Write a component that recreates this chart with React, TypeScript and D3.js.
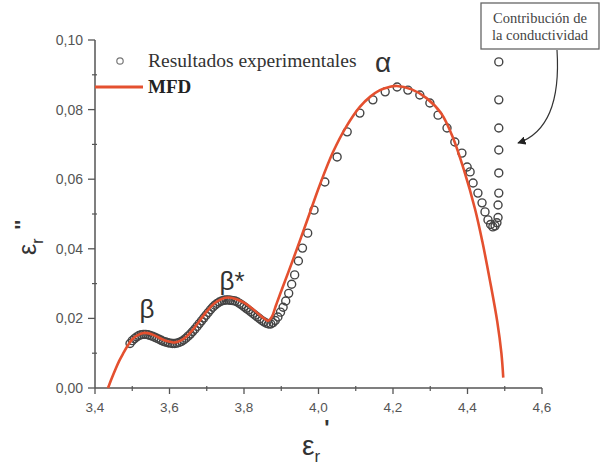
import React from 'react';
import * as d3 from 'd3';

// ε' , ε'' pairs
const expBeta: [number, number][] = [
  [3.494, 0.0128], [3.5, 0.0136], [3.506, 0.0142], [3.512, 0.0147], [3.518, 0.0151],
  [3.524, 0.0153], [3.53, 0.0154], [3.536, 0.0154], [3.542, 0.0153], [3.548, 0.0151],
  [3.554, 0.0149], [3.56, 0.0146], [3.566, 0.0143], [3.572, 0.014], [3.578, 0.0137],
  [3.584, 0.0134], [3.59, 0.0132], [3.596, 0.013], [3.602, 0.0129], [3.608, 0.0128],
  [3.614, 0.0128], [3.62, 0.0129], [3.626, 0.0131], [3.632, 0.0134], [3.638, 0.0138],
  [3.644, 0.0143], [3.65, 0.0149], [3.656, 0.0155], [3.662, 0.0162], [3.668, 0.0169],
  [3.674, 0.0177], [3.68, 0.0185], [3.686, 0.0193], [3.692, 0.0201], [3.698, 0.0209],
  [3.704, 0.0217], [3.71, 0.0225], [3.716, 0.0232], [3.722, 0.0238], [3.728, 0.0243],
  [3.734, 0.0247], [3.74, 0.025], [3.746, 0.0252], [3.752, 0.0253], [3.758, 0.0253],
  [3.764, 0.0252], [3.77, 0.0251], [3.776, 0.025], [3.782, 0.0247], [3.788, 0.0243],
  [3.794, 0.0239], [3.8, 0.0234], [3.806, 0.0229], [3.812, 0.0224], [3.818, 0.0219],
  [3.824, 0.0214], [3.83, 0.0209], [3.836, 0.0204], [3.842, 0.0199], [3.848, 0.0194],
  [3.854, 0.019], [3.86, 0.0186], [3.866, 0.0184], [3.872, 0.0184],
];

const expAlpha: [number, number][] = [
  [3.878, 0.0188], [3.884, 0.0194], [3.891, 0.0204], [3.898, 0.0218], [3.905, 0.0232],
  [3.912, 0.025], [3.92, 0.0272], [3.928, 0.0298], [3.936, 0.0325], [3.946, 0.0365],
  [3.957, 0.0402], [3.971, 0.0445], [3.988, 0.0511], [4.017, 0.0592], [4.05, 0.0664],
  [4.077, 0.0736], [4.111, 0.079], [4.146, 0.0828], [4.179, 0.0851], [4.211, 0.0865],
  [4.24, 0.0856], [4.272, 0.0842], [4.299, 0.0819], [4.321, 0.0784], [4.345, 0.0747],
  [4.366, 0.0707], [4.385, 0.0675], [4.399, 0.0635], [4.407, 0.0621], [4.415, 0.0589],
  [4.428, 0.056], [4.439, 0.0532], [4.447, 0.0506], [4.455, 0.0483], [4.462, 0.047],
  [4.468, 0.0463], [4.474, 0.0466], [4.479, 0.0475],
];

const expCond: [number, number][] = [
  [4.482, 0.049], [4.482, 0.0526], [4.484, 0.056], [4.484, 0.0618], [4.484, 0.0684],
  [4.484, 0.0747], [4.484, 0.0828], [4.484, 0.0937],
];

const mfd: [number, number][] = [
  [3.435, 0.0], [3.445, 0.0028], [3.455, 0.0054], [3.465, 0.0078], [3.475, 0.0098],
  [3.488, 0.0122], [3.5, 0.014], [3.515, 0.0152], [3.53, 0.0158], [3.545, 0.0157],
  [3.56, 0.0151], [3.575, 0.0143], [3.59, 0.0136], [3.605, 0.0132], [3.615, 0.0131],
  [3.63, 0.0136], [3.645, 0.0147], [3.66, 0.0164], [3.68, 0.0192], [3.7, 0.022],
  [3.72, 0.0243], [3.74, 0.0256], [3.76, 0.026], [3.78, 0.0255], [3.8, 0.0245],
  [3.82, 0.023], [3.84, 0.0212], [3.855, 0.0199], [3.865, 0.0193], [3.875, 0.0205],
  [3.885, 0.0235], [3.897, 0.027], [3.932, 0.037], [3.969, 0.048], [4.004, 0.0585],
  [4.039, 0.0678], [4.075, 0.0752], [4.111, 0.0808], [4.14, 0.0838], [4.165, 0.0856],
  [4.19, 0.0865], [4.21, 0.0868], [4.25, 0.0858], [4.29, 0.0833], [4.33, 0.0788],
  [4.36, 0.0722], [4.39, 0.0628], [4.42, 0.0515], [4.44, 0.042], [4.46, 0.031],
  [4.48, 0.019], [4.491, 0.01], [4.496, 0.003],
];

const xMajor = [3.4, 3.6, 3.8, 4.0, 4.2, 4.4, 4.6];
const xMinor = [3.5, 3.7, 3.9, 4.1, 4.3, 4.5];
const yMajor = [0, 0.02, 0.04, 0.06, 0.08, 0.1];
const yMinor = [0.01, 0.03, 0.05, 0.07, 0.09];

const W = 602;
const H = 467;

export default function App() {
  const x = d3.scaleLinear().domain([3.4, 4.6]).range([95, 542]);
  const y = d3.scaleLinear().domain([0, 0.1]).range([388, 40]);
  const line = d3.line<[number, number]>()
    .x(d => x(d[0]))
    .y(d => y(d[1]))
    .curve(d3.curveCatmullRom);
  const comma = (v: number, p: number) => v.toFixed(p).replace('.', ',');
  const axisColor = '#555';
  const sans = 'Liberation Sans, Arial, sans-serif';
  const serif = 'Liberation Serif, Times New Roman, serif';
  const pts = [...expBeta, ...expAlpha, ...expCond];

  return (
    <svg width={W} height={H} style={{ position: 'absolute', left: 0, top: 0, background: '#fff' }}>
      <defs>
        <marker id="ah" viewBox="0 0 10 10" refX="9" refY="5" markerWidth="7" markerHeight="7" orient="auto">
          <path d="M0,0 L10,5 L0,10 z" fill="#222" />
        </marker>
      </defs>

      {/* axes */}
      <line x1={x(3.4)} x2={x(4.6)} y1={y(0)} y2={y(0)} stroke={axisColor} strokeWidth={1.5} />
      <line x1={x(3.4)} x2={x(3.4)} y1={y(0)} y2={y(0.1)} stroke={axisColor} strokeWidth={1.5} />
      {xMajor.map(t => (
        <g key={'xt' + t}>
          <line x1={x(t)} x2={x(t)} y1={y(0)} y2={y(0) + 6} stroke={axisColor} strokeWidth={1.3} />
          <text x={x(t)} y={y(0) + 24} textAnchor="middle" fontFamily={sans} fontSize={13.5} fill="#555">{comma(t, 1)}</text>
        </g>
      ))}
      {xMinor.map(t => (
        <line key={'xm' + t} x1={x(t)} x2={x(t)} y1={y(0) - 2} y2={y(0) + 3} stroke={axisColor} strokeWidth={1.2} />
      ))}
      {yMajor.map(t => (
        <g key={'yt' + t}>
          <line x1={x(3.4) - 7} x2={x(3.4)} y1={y(t)} y2={y(t)} stroke={axisColor} strokeWidth={1.3} />
          <text x={x(3.4) - 12} y={y(t) + 5} textAnchor="end" fontFamily={sans} fontSize={14} fill="#555">{comma(t, 2)}</text>
        </g>
      ))}
      {yMinor.map(t => (
        <line key={'ym' + t} x1={x(3.4) - 3} x2={x(3.4) + 2} y1={y(t)} y2={y(t)} stroke={axisColor} strokeWidth={1.2} />
      ))}

      {/* experimental points */}
      {pts.map((d, i) => (
        <circle key={i} cx={x(d[0])} cy={y(d[1])} r={4} fill="none" stroke="#444" strokeWidth={1.4} />
      ))}

      {/* MFD fit */}
      <path d={line(mfd) || ''} fill="none" stroke="#e4502f" strokeWidth={2.6} />

      {/* legend */}
      <circle cx={120} cy={61} r={3.2} fill="none" stroke="#777" strokeWidth={1.2} />
      <text x={148} y={67} fontFamily={serif} fontSize={19.5} fill="#333">Resultados experimentales</text>
      <line x1={95} x2={143} y1={87} y2={87} stroke="#e4502f" strokeWidth={3} />
      <text x={148} y={93} fontFamily={serif} fontSize={19} fontWeight="bold" fill="#222">MFD</text>

      {/* relaxation labels */}
      <text x={383} y={72} textAnchor="middle" fontFamily={sans} fontSize={28} fill="#333">α</text>
      <text x={147} y={318} textAnchor="middle" fontFamily={sans} fontSize={26} fill="#333">β</text>
      <text x={232} y={290} textAnchor="middle" fontFamily={sans} fontSize={26} fill="#333">β*</text>

      {/* annotation */}
      <rect x={481} y={3} width={118} height={46} fill="#fff" stroke="#666" strokeWidth={1.3} />
      <text x={540} y={23} textAnchor="middle" fontFamily={serif} fontSize={14.5} fill="#444">Contribución de</text>
      <text x={540} y={40} textAnchor="middle" fontFamily={serif} fontSize={14.5} fill="#444">la conductividad</text>
      <path d="M557,50 Q562,128 518,143" fill="none" stroke="#333" strokeWidth={1.2} markerEnd="url(#ah)" />

      {/* axis titles */}
      <text x={302} y={455} fontFamily={sans} fontSize={28} fill="#333">
        ε<tspan fontSize={17} dy={7}>r</tspan><tspan fontSize={22} fontWeight="bold" dy={-27} dx={4}>'</tspan>
      </text>
      <text transform="translate(36,255) rotate(-90)" fontFamily={sans} fontSize={25} fill="#333">
        ε<tspan fontSize={16} dy={7}>r</tspan><tspan fontSize={20} fontWeight="bold" dy={-14} dx={9}>''</tspan>
      </text>
    </svg>
  );
}
